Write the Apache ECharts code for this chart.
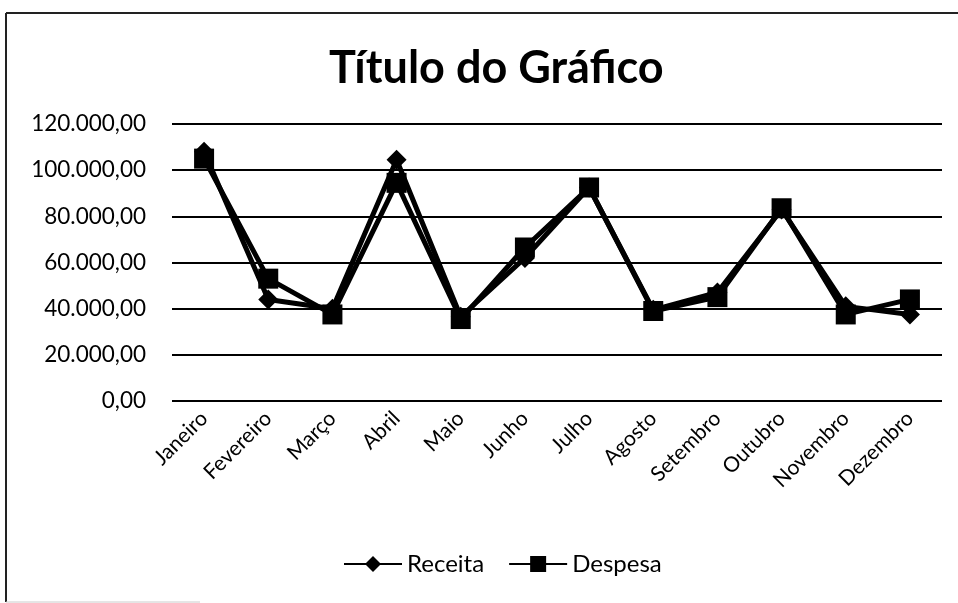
<!DOCTYPE html>
<html>
<head>
<meta charset="utf-8">
<script src="https://cdn.jsdelivr.net/npm/echarts@6/dist/echarts.min.js"></script>
<style>
  html, body { margin: 0; padding: 0; background: #fff; }
  #grafico { width: 958px; height: 603px; }
</style>
</head>
<body>
<div id="grafico"></div>
<script>
// dados
var meses = ['Janeiro', 'Fevereiro', 'Março', 'Abril', 'Maio', 'Junho', 'Julho', 'Agosto', 'Setembro', 'Outubro', 'Novembro', 'Dezembro'];
var receita = [108000, 44000, 40000, 104500, 36500, 62000, 92500, 39500, 47000, 83000, 41000, 37500];
var despesa = [105000, 53000, 37500, 94500, 35500, 66500, 92500, 39000, 45000, 83500, 37500, 44000];

var fonte = 'Lato, "Open Sans", sans-serif';

function formataBR(v){
  var s = Math.round(v).toString().replace(/\B(?=(\d{3})+(?!\d))/g, '.');
  return s + ',00';
}

var myChart = echarts.init(document.getElementById('grafico'));

var option = {
  backgroundColor: '#fff',
  animation: false,
  title: {
    text: 'Título do Gráfico',
    left: 324,
    top: 41,
    textStyle: { fontFamily: fonte, fontSize: 45, fontWeight: 'bold', color: '#000' }
  },
  legend: {
    bottom: 22,
    left: 338,
    itemWidth: 58,
    itemHeight: 20,
    itemGap: 24,
    textStyle: { fontFamily: fonte, fontSize: 24, color: '#000' },
    data: ['Receita', 'Despesa']
  },
  grid: { left: 172, right: 16, top: 124, bottom: 202 },
  xAxis: {
    type: 'category',
    data: meses,
    boundaryGap: true,
    axisLine: { show: false },
    axisTick: { show: false },
    axisLabel: { rotate: 45, fontFamily: fonte, fontSize: 21, color: '#000', margin: 14 }
  },
  yAxis: {
    type: 'value',
    min: 0,
    max: 120000,
    interval: 20000,
    axisLine: { show: false },
    axisTick: { show: false },
    splitLine: { lineStyle: { color: '#000', width: 2 } },
    axisLabel: { fontFamily: fonte, fontSize: 22.5, color: '#000', margin: 26, formatter: formataBR }
  },
  series: [
    {
      name: 'Receita',
      type: 'line',
      data: receita,
      symbol: 'diamond',
      symbolSize: 20,
      itemStyle: { color: '#000' },
      lineStyle: { color: '#000', width: 5 }
    },
    {
      name: 'Despesa',
      type: 'line',
      data: despesa,
      symbol: 'rect',
      symbolSize: 20,
      itemStyle: { color: '#000' },
      lineStyle: { color: '#000', width: 5 }
    }
  ],
  graphic: [
    { type: 'line', shape: { x1: 6, y1: 13, x2: 958, y2: 13 }, style: { stroke: '#222', lineWidth: 2 } },
    { type: 'line', shape: { x1: 6, y1: 13, x2: 6, y2: 602 }, style: { stroke: '#222', lineWidth: 2 } },
    { type: 'line', shape: { x1: 6, y1: 602, x2: 200, y2: 602 }, style: { stroke: '#ccc', lineWidth: 1 } }
  ]
};

myChart.setOption(option);
</script>
</body>
</html>
